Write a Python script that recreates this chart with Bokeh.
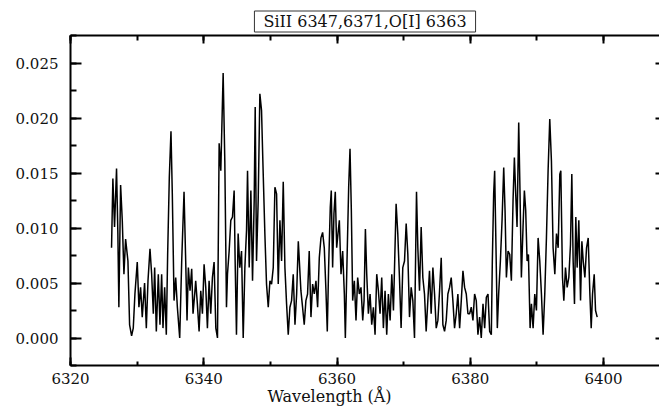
from bokeh.plotting import figure
from bokeh.models import (LinearAxis, SingleIntervalTicker, Range1d, Title,
                          NumeralTickFormatter, CustomJSTickFormatter)
from bokeh.embed import file_html
from bokeh.resources import INLINE

title_text = "SiII 6347,6371,O[I] 6363"
x_label = "Wavelength (Å)"

wavelength = [
    6326.16, 6326.36, 6326.61, 6326.91, 6327.11, 6327.26, 6327.52, 6327.77, 6328.02, 6328.27,
    6328.62, 6328.87, 6329.17, 6329.42, 6329.67, 6330.02, 6330.27, 6330.52, 6330.77, 6331.12,
    6331.38, 6331.63, 6331.93, 6332.18, 6332.43, 6332.63, 6332.88, 6333.18, 6333.43, 6333.68,
    6333.88, 6334.13, 6334.38, 6334.58, 6334.83, 6335.08, 6335.28, 6335.54, 6335.79, 6336.04,
    6336.39, 6336.69, 6337.04, 6337.29, 6337.49, 6337.69, 6337.94, 6338.19, 6338.39, 6338.64,
    6338.79, 6339.04, 6339.30, 6339.55, 6339.80, 6340.05, 6340.30, 6340.55, 6340.80, 6341.05,
    6341.30, 6341.55, 6341.81, 6342.06, 6342.31, 6342.56, 6342.91, 6343.16, 6343.41, 6343.56,
    6343.81, 6344.06, 6344.31, 6344.56, 6344.71, 6344.91, 6345.16, 6345.41, 6345.67, 6345.92,
    6346.17, 6346.42, 6346.57, 6346.82, 6347.07, 6347.32, 6347.57, 6347.72, 6347.92, 6348.17,
    6348.42, 6348.67, 6348.87, 6349.17, 6349.42, 6349.68, 6349.93, 6350.18, 6350.43, 6350.68,
    6350.93, 6351.18, 6351.43, 6351.68, 6351.93, 6352.18, 6352.43, 6352.68, 6352.93, 6353.18,
    6353.43, 6353.69, 6353.94, 6354.19, 6354.58, 6354.83, 6355.08, 6355.33, 6355.58, 6355.83,
    6356.09, 6356.34, 6356.59, 6356.84, 6357.09, 6357.34, 6357.59, 6357.84, 6358.09, 6358.34,
    6358.54, 6358.74, 6358.99, 6359.14, 6359.34, 6359.54, 6359.74, 6359.95, 6360.15, 6360.35,
    6360.60, 6360.85, 6361.10, 6361.25, 6361.50, 6361.75, 6361.95, 6362.15, 6362.35, 6362.60,
    6362.85, 6363.10, 6363.35, 6363.60, 6363.86, 6364.06, 6364.26, 6364.46, 6364.71, 6364.96,
    6365.21, 6365.46, 6365.71, 6365.96, 6366.21, 6366.46, 6366.71, 6366.96, 6367.21, 6367.46,
    6367.71, 6367.97, 6368.22, 6368.47, 6368.87, 6369.12, 6369.37, 6369.62, 6369.87, 6370.13,
    6370.38, 6370.63, 6370.88, 6371.13, 6371.38, 6371.63, 6371.93, 6372.13, 6372.38, 6372.63,
    6372.88, 6373.13, 6373.38, 6373.63, 6373.88, 6374.13, 6374.39, 6374.64, 6374.89, 6375.14,
    6375.39, 6375.64, 6375.89, 6376.14, 6376.39, 6376.64, 6376.89, 6377.14, 6377.39, 6377.64,
    6377.89, 6378.14, 6378.40, 6378.65, 6378.90, 6379.15, 6379.40, 6379.65, 6379.90, 6380.15,
    6380.40, 6380.65, 6380.90, 6381.15, 6381.40, 6381.65, 6381.91, 6382.16, 6382.41, 6382.66,
    6382.91, 6383.16, 6383.31, 6383.51, 6383.66, 6383.86, 6384.06, 6384.26, 6384.52, 6384.77,
    6385.02, 6385.22, 6385.42, 6385.67, 6385.92, 6386.17, 6386.42, 6386.62, 6386.82, 6387.02,
    6387.27, 6387.47, 6387.67, 6387.92, 6388.12, 6388.32, 6388.53, 6388.73, 6388.98, 6389.18,
    6389.43, 6389.68, 6389.93, 6390.18, 6390.43, 6390.68, 6390.93, 6391.18, 6391.43, 6391.68,
    6391.93, 6392.18, 6392.43, 6392.69, 6392.94, 6393.19, 6393.44, 6393.59, 6393.84, 6394.04,
    6394.29, 6394.54, 6394.79, 6395.04, 6395.24, 6395.44, 6395.64, 6395.84, 6396.04, 6396.29,
    6396.55, 6396.75, 6396.95, 6397.20, 6397.45, 6397.70, 6397.95, 6398.15, 6398.35, 6398.60,
    6398.80, 6399.05,
]

flux = [
    0.0082, 0.0145, 0.0101, 0.0154, 0.0095, 0.0028, 0.0139, 0.0107, 0.0058, 0.0090,
    0.0070, 0.0012, 0.0002, 0.0009, 0.0040, 0.0069, 0.0028, 0.0046, 0.0019, 0.0050,
    0.0009, 0.0052, 0.0081, 0.0058, 0.0022, 0.0064, 0.0006, 0.0058, 0.0012, 0.0058,
    0.0009, 0.0046, 0.0003, 0.0076, 0.0146, 0.0188, 0.0131, 0.0034, 0.0055, 0.0028,
    0.0000, 0.0070, 0.0133, 0.0070, 0.0016, 0.0064, 0.0043, 0.0063, 0.0022, 0.0040,
    0.0052, 0.0031, 0.0006, 0.0043, 0.0022, 0.0067, 0.0046, 0.0009, 0.0052, 0.0022,
    0.0055, 0.0069, 0.0009, 0.0000, 0.0177, 0.0152, 0.0241, 0.0161, 0.0028, 0.0058,
    0.0079, 0.0107, 0.0110, 0.0134, 0.0070, 0.0003, 0.0095, 0.0064, 0.0079, 0.0000,
    0.0064, 0.0098, 0.0152, 0.0064, 0.0134, 0.0052, 0.0125, 0.0210, 0.0070, 0.0125,
    0.0222, 0.0207, 0.0161, 0.0095, 0.0049, 0.0028, 0.0052, 0.0049, 0.0064, 0.0137,
    0.0131, 0.0049, 0.0107, 0.0070, 0.0142, 0.0064, 0.0031, 0.0003, 0.0028, 0.0034,
    0.0058, 0.0012, 0.0040, 0.0088, 0.0043, 0.0028, 0.0012, 0.0034, 0.0040, 0.0079,
    0.0019, 0.0049, 0.0040, 0.0052, 0.0028, 0.0073, 0.0091, 0.0096, 0.0082, 0.0043,
    0.0006, 0.0064, 0.0119, 0.0134, 0.0064, 0.0113, 0.0133, 0.0082, 0.0095, 0.0107,
    0.0058, 0.0079, 0.0040, 0.0000, 0.0070, 0.0137, 0.0172, 0.0116, 0.0034, 0.0052,
    0.0016, 0.0055, 0.0040, 0.0046, 0.0016, 0.0034, 0.0099, 0.0058, 0.0022, 0.0040,
    0.0012, 0.0028, 0.0003, 0.0058, 0.0043, 0.0022, 0.0055, 0.0009, 0.0043, 0.0003,
    0.0040, 0.0016, 0.0058, 0.0025, 0.0122, 0.0095, 0.0055, 0.0009, 0.0064, 0.0070,
    0.0104, 0.0076, 0.0019, 0.0046, 0.0034, 0.0000, 0.0133, 0.0082, 0.0043, 0.0101,
    0.0055, 0.0040, 0.0006, 0.0034, 0.0061, 0.0022, 0.0064, 0.0040, 0.0009, 0.0016,
    0.0043, 0.0073, 0.0012, 0.0006, 0.0016, 0.0040, 0.0046, 0.0055, 0.0034, 0.0009,
    0.0022, 0.0040, 0.0009, 0.0034, 0.0061, 0.0046, 0.0040, 0.0022, 0.0022, 0.0028,
    0.0016, 0.0040, 0.0034, 0.0003, 0.0019, 0.0000, 0.0031, 0.0009, 0.0037, 0.0040,
    0.0006, 0.0003, 0.0070, 0.0131, 0.0152, 0.0082, 0.0009, 0.0040, 0.0070, 0.0107,
    0.0155, 0.0116, 0.0055, 0.0079, 0.0076, 0.0052, 0.0125, 0.0164, 0.0131, 0.0101,
    0.0196, 0.0131, 0.0055, 0.0101, 0.0134, 0.0116, 0.0070, 0.0076, 0.0009, 0.0031,
    0.0009, 0.0040, 0.0025, 0.0091, 0.0070, 0.0040, 0.0003, 0.0040, 0.0091, 0.0152,
    0.0199, 0.0161, 0.0082, 0.0058, 0.0095, 0.0082, 0.0149, 0.0152, 0.0055, 0.0034,
    0.0064, 0.0046, 0.0055, 0.0085, 0.0149, 0.0070, 0.0031, 0.0110, 0.0064, 0.0107,
    0.0034, 0.0088, 0.0070, 0.0055, 0.0082, 0.0091, 0.0040, 0.0009, 0.0040, 0.0058,
    0.0025, 0.0019,
]

x_start, x_end = 6320, 6408.4
y_start, y_end = -0.0025, 0.0275

p = figure(width=659, height=408, output_backend="svg", toolbar_location=None,
           x_range=Range1d(x_start, x_end), y_range=Range1d(y_start, y_end),
           x_axis_location=None, y_axis_location=None,
           min_border_left=70, min_border_right=0, min_border_top=35, min_border_bottom=43)
p.outline_line_color = None
p.background_fill_color = "white"
p.border_fill_color = "white"
p.xgrid.visible = False
p.ygrid.visible = False

FONT = "DejaVu Serif"
blank = CustomJSTickFormatter(code="return ''")

def style(ax, major_in, minor_in, labels=True):
    ax.axis_line_width = 2
    ax.axis_line_color = "black"
    ax.major_tick_line_width = 2
    ax.minor_tick_line_width = 2
    ax.major_tick_line_color = "black"
    ax.minor_tick_line_color = "black"
    ax.major_tick_in = major_in
    ax.major_tick_out = 0
    ax.minor_tick_in = minor_in
    ax.minor_tick_out = 0
    ax.major_label_text_font = FONT
    ax.major_label_text_font_size = "15px"
    ax.major_label_text_color = "#111111"
    if not labels:
        ax.formatter = blank
        ax.major_label_standoff = 0

xb = LinearAxis(ticker=SingleIntervalTicker(interval=20, num_minor_ticks=2))
style(xb, 8, 4)
xb.major_label_standoff = 7
p.add_layout(xb, "below")

xt = LinearAxis(ticker=SingleIntervalTicker(interval=20, num_minor_ticks=2))
style(xt, 8, 5, labels=False)
p.add_layout(xt, "above")

yl = LinearAxis(ticker=SingleIntervalTicker(interval=0.005, num_minor_ticks=2),
                formatter=NumeralTickFormatter(format="0.000"))
style(yl, 11, 6)
yl.major_label_standoff = 12
p.add_layout(yl, "left")

yr = LinearAxis(ticker=SingleIntervalTicker(interval=0.005, num_minor_ticks=2))
style(yr, 4, 0, labels=False)
yr.axis_line_color = None
yr.minor_tick_line_color = None
p.add_layout(yr, "right")

t = Title(text=title_text, align="center", text_font=FONT, text_font_size="16px",
          text_font_style="normal", text_color="#111111",
          border_line_color="#333333", border_line_width=1,
          background_fill_color="white", padding=(9, 1), standoff=7)
p.add_layout(t, "above")

xl = Title(text=x_label, align="left", offset=197, text_font=FONT,
           text_font_size="16px", text_font_style="normal", text_color="#111111",
           standoff=0, vertical_align="top")
p.add_layout(xl, "below")

p.line(wavelength, flux, line_color="black", line_width=1.5)

open("out.html", "w").write(file_html(p, INLINE))
